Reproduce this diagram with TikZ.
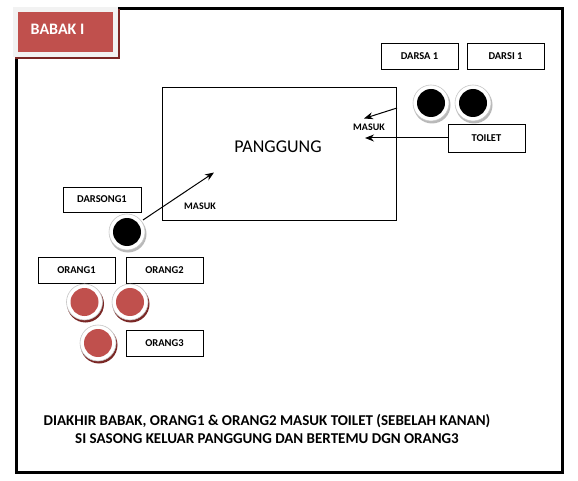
\documentclass[tikz,border=0pt]{standalone}
\usepackage{fontspec}
\setmainfont{Carlito}
\usetikzlibrary{arrows.meta}
\definecolor{babakred}{HTML}{C0504D}
\definecolor{redshadow}{HTML}{7A2725}
\definecolor{badgelight}{HTML}{F2F2F2}
\newcommand\actor[5]{%
  \fill[#5] (#2+1,#3+2) circle (18.5);
  \node[circle, draw=gray!45, line width=0.6pt, fill=white, minimum size=36pt, inner sep=0pt] (#1) at (#2,#3) {};
  \fill[#4] (#1.center) circle (14);
}
\begin{document}
\begin{tikzpicture}[x=1pt,y=-1pt,
  lbl/.style={font=\fontsize{10.5}{12}\selectfont\bfseries},
  box/.style={draw=black, line width=0.8pt, fill=white, minimum width=77pt, minimum height=26pt, inner sep=0pt, lbl},
  arr/.style={-{Stealth[length=9pt,width=7pt]}, line width=1pt},
]
\useasboundingbox (0,0) rectangle (578,481);
\fill[white] (0,0) rectangle (578,481);
% outer frame
\draw[line width=3pt] (16,8.5) rectangle (562,472);
% badge
\fill[redshadow] (15,9.5) rectangle (120,59);
\fill[badgelight] (13,7) rectangle (118,57);
\fill[babakred] (18,12) rectangle (113,52);
\node[anchor=west, text=white, inner sep=0pt, font=\fontsize{16}{19}\selectfont\bfseries] (babak) at (30.5,29) {BABAK I};
% stage
\node[draw=black, line width=0.8pt, minimum width=234pt, minimum height=133pt, inner sep=0pt] (stage) at (279,153.5) {};
\node[font=\fontsize{18}{21}\selectfont] (panggung) at (278,147) {PANGGUNG};
% boxes
\node[box] (darsa) at (419.5,56) {DARSA 1};
\node[box] (darsi) at (505.5,56) {DARSI 1};
\node[box, minimum height=28pt] (toilet) at (486.5,138) {TOILET};
\node[box, minimum width=78pt, minimum height=25pt] (darsong) at (102,199.5) {DARSONG1};
\node[box] (orang1) at (76.5,270) {ORANG1};
\node[box] (orang2) at (164.5,270) {ORANG2};
\node[box] (orang3) at (164.5,343.5) {ORANG3};
% actors
\actor{darsac}{431}{103}{black}{gray!55}
\actor{darsic}{473}{103}{black}{gray!55}
\actor{darsongc}{127}{232}{black}{gray!55}
\actor{orang1c}{84.5}{302}{babakred}{redshadow}
\actor{orang2c}{130}{302}{babakred}{redshadow}
\actor{orang3c}{98}{343}{babakred}{redshadow}
% labels
\node[lbl, font=\fontsize{10}{12}\selectfont\bfseries] (masukr) at (369,127) {MASUK};
\node[lbl, font=\fontsize{10}{12}\selectfont\bfseries] (masukl) at (200,206) {MASUK};
% arrows
\coordinate (a1s) at (397,108);
\coordinate (a1e) at (364,118.5);
\coordinate (a2e) at (365,138);
\coordinate (a3s) at (143,220);
\coordinate (a3e) at (214,172.5);
\draw[arr] (a1s) -- (a1e);
\draw[arr] (toilet.west) -- (a2e);
\draw[arr] (a3s) -- (a3e);
% caption
\node[align=center, anchor=base, inner sep=0pt, font=\fontsize{15}{18}\selectfont\bfseries] (caption) at (267,443.5)
  {DIAKHIR BABAK, ORANG1 \& ORANG2 MASUK TOILET (SEBELAH KANAN)\\SI SASONG KELUAR PANGGUNG DAN BERTEMU DGN ORANG3};
\end{tikzpicture}
\end{document}
